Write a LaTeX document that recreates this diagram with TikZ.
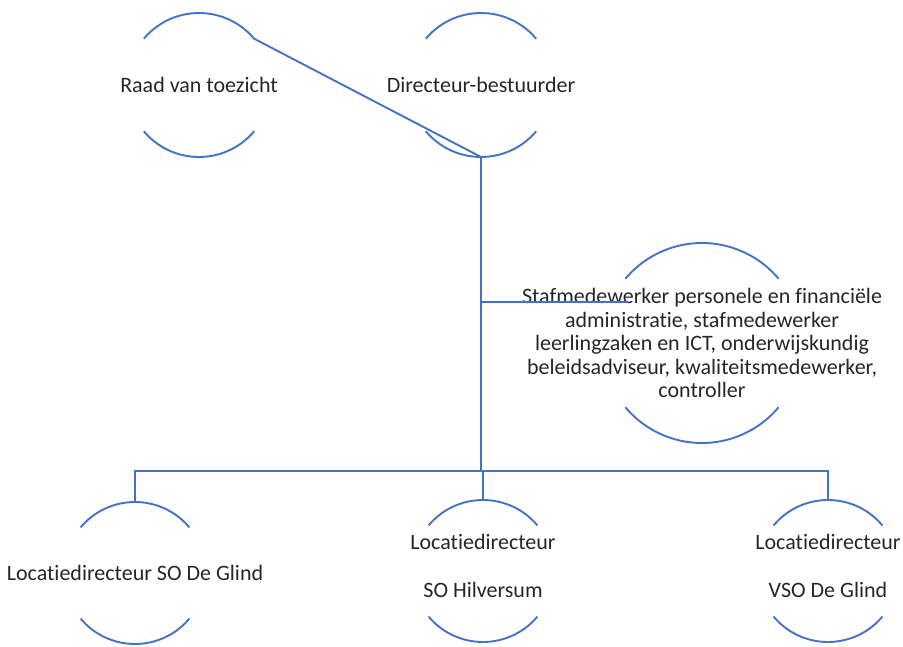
\documentclass[tikz,border=0pt]{standalone}
\usepackage{fontspec}
\setmainfont[Ligatures=NoCommon]{Carlito}
\usepackage{tikz}
\usetikzlibrary{positioning}
\usepackage{xcolor}

\definecolor{orgblue}{HTML}{4472C4}
\definecolor{orgtext}{HTML}{262626}

\tikzset{
  unit/.style={circle, minimum size=#1, inner sep=0pt, outer sep=0pt},
  unittext/.style={font=\fontsize{22}{23.5}\selectfont, text=orgtext, align=center},
  orgline/.style={orgblue, line width=1.9pt}
}

\begin{document}
\begin{tikzpicture}[x=1pt, y=1pt]
		\useasboundingbox (0,0) rectangle (903,646);

		% Units
		\node[unit=144pt, label={[unittext]center:Raad van toezicht}] (rvt) at (199,561) {};
		\node[unit=144pt, label={[unittext]center:Directeur-bestuurder}] (dir) at (481,561) {};
		\node[unit=200pt, label={[unittext]center:Stafmedewerker personele en financiële\\administratie, stafmedewerker\\leerlingzaken en ICT, onderwijskundig\\beleidsadviseur, kwaliteitsmedewerker,\\controller}] (staf) at (702,303) {};
		\node[unit=142pt, label={[unittext]center:Locatiedirecteur SO De Glind}] (so1) at (135,73) {};
		\node[unit=142pt, label={[unittext, yshift=5pt]center:Locatiedirecteur\\[24pt]SO Hilversum}] (so2) at (483,75) {};
		\node[unit=142pt, label={[unittext, yshift=5pt]center:Locatiedirecteur\\[24pt]VSO De Glind}] (vso) at (828,75) {};

		% Open circles
		\foreach \n/\r in {rvt/72, dir/72, staf/100, so1/71, so2/71, vso/71} {
			\draw[orgline] (\n.40) arc[start angle=40, end angle=140, radius=\r];
			\draw[orgline] (\n.-40) arc[start angle=-40, end angle=-140, radius=\r];
		}

		% Connectors
		\coordinate (bus) at (481,175);
		\coordinate (stafin) at (628,344);
		\draw[orgline] (rvt.40) -- (dir.south);
		\draw[orgline] (dir.south) -- (bus);
		\draw[orgline] (bus |- stafin) -- (stafin);
		\draw[orgline] (so1.north) |- (vso.north |- bus) -- (vso.north);
		\draw[orgline] (so2.north) -- (so2.north |- bus);
	\end{tikzpicture}
\end{document}
